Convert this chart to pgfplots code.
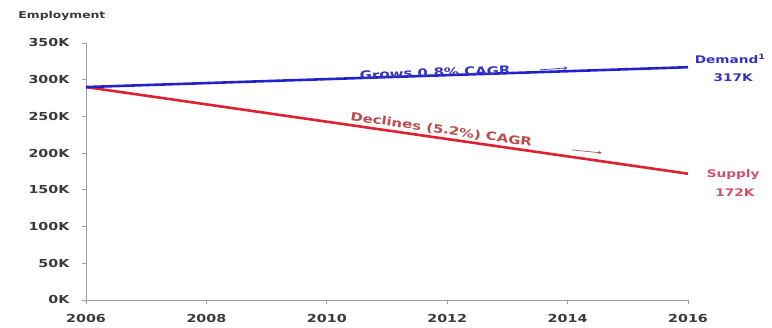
\documentclass[border=0pt]{standalone}
\usepackage{fontspec}
\setmainfont{DejaVu Sans}[FakeStretch=1.3]
\usepackage{pgfplots}
\pgfplotsset{compat=1.18}
\definecolor{dblue}{HTML}{2222CC}
\definecolor{dred}{HTML}{E0202E}
\definecolor{tblue}{HTML}{3333C4}
\definecolor{tred}{HTML}{C04A4A}
\definecolor{sred}{HTML}{D2506A}
\definecolor{tgray}{HTML}{3A3A3A}
\definecolor{agray}{HTML}{A0A0A0}
\begin{document}
\begin{tikzpicture}
\path (0,0) rectangle (772pt,328pt);
\begin{axis}[
  at={(86pt,28pt)}, anchor=south west,
  scale only axis, width=602pt, height=257pt,
  xmin=2006, xmax=2016, ymin=0, ymax=350,
  axis x line*=bottom, axis y line*=left,
  axis line style={agray, line width=0.9pt},
  tick style={agray, line width=0.8pt},
  tick align=outside, major tick length=4pt,
  xtick={2006,2008,2010,2012,2014,2016},
  xticklabels={2006,2008,2010,2012,2014,2016},
  ytick={0,50,100,150,200,250,300,350},
  yticklabels={0K,50K,100K,150K,200K,250K,300K,350K},
  /pgf/number format/assume math mode=true,
  ticklabel style={font=\fontsize{11}{12}\selectfont\bfseries, text=tgray},
  yticklabel style={xshift=-9pt},
  xticklabel style={yshift=-7pt},
  clip=false,
]
\addplot[dred, line width=2.6pt] coordinates {(2006,290) (2016,172)};
\addplot[dblue, line width=2.6pt] coordinates {(2006,290) (2016,317)};
\node[text=tblue, font=\fontsize{11.5}{13}\selectfont\bfseries, rotate=1.9] at (axis cs:2011.8,309.5) {Grows 0.8\% CAGR};
\draw[-stealth, tblue, line width=0.7pt] (axis cs:2013.54,313.4) -- (axis cs:2014.0,316.1);
\node[text=tred, font=\fontsize{11.5}{13}\selectfont\bfseries, rotate=-8.2] at (axis cs:2011.9,231.6) {Declines (5.2\%) CAGR};
\draw[-stealth, tred!80!gray, line width=0.7pt] (axis cs:2014.07,204.4) -- (axis cs:2014.57,200.3);
\node[text=tblue, font=\fontsize{10.5}{12}\selectfont\bfseries] at (axis cs:2016.7,328.3) {Demand\textsuperscript{1}};
\node[text=tblue, font=\fontsize{10.5}{12}\selectfont\bfseries] at (axis cs:2016.75,302.5) {317K};
\node[text=sred, font=\fontsize{10.5}{12}\selectfont\bfseries] at (axis cs:2016.75,170.3) {Supply};
\node[text=sred, font=\fontsize{10.5}{12}\selectfont\bfseries] at (axis cs:2016.78,145.8) {172K};
\node[text=tgray, font=\fontsize{9.5}{11}\selectfont\bfseries] at (axis cs:2005.6,387) {Employment};
\end{axis}
\end{tikzpicture}
\end{document}
